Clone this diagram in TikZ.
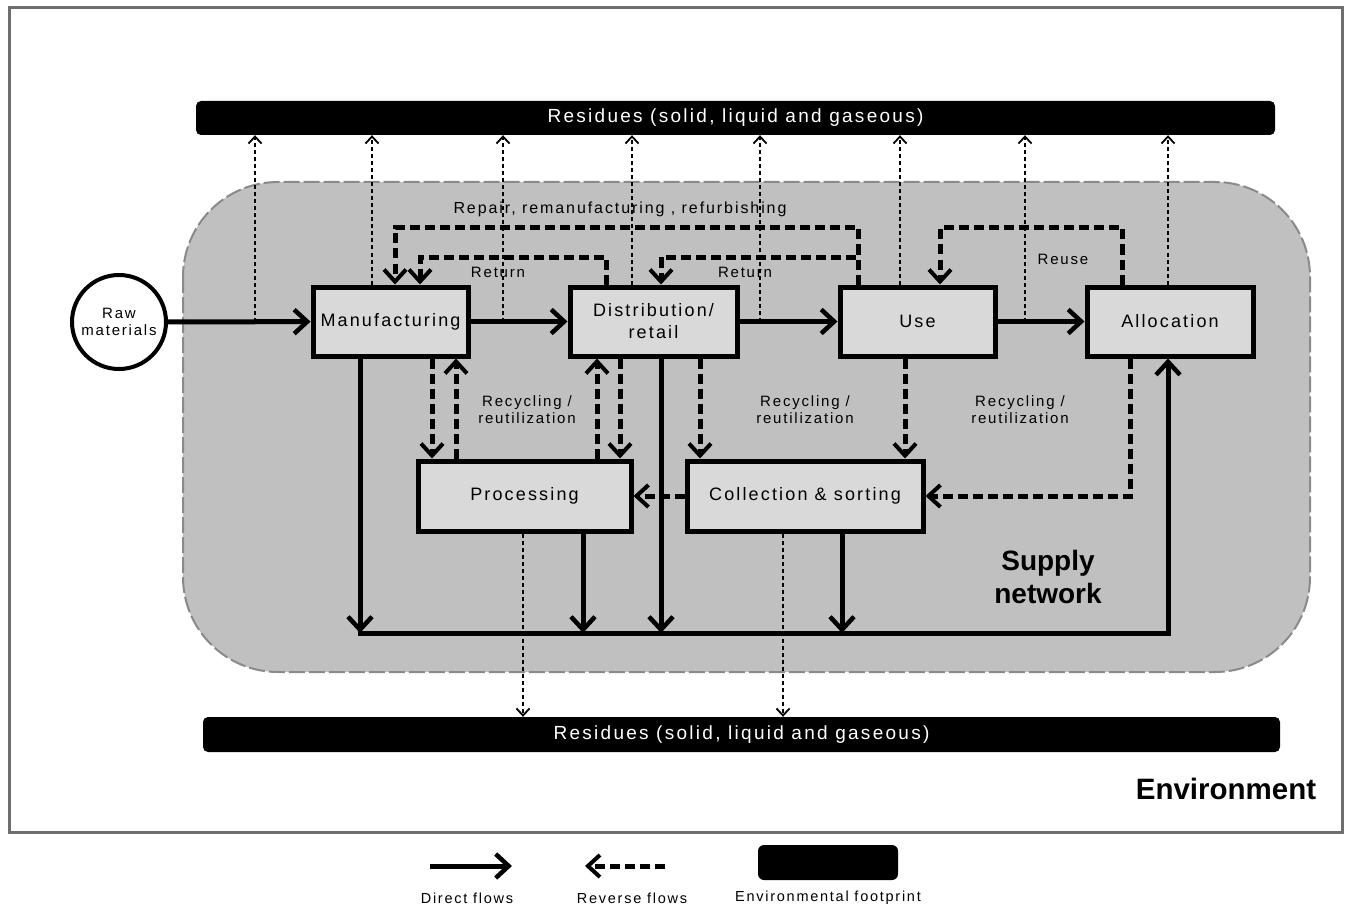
\documentclass[tikz,border=0pt]{standalone}
\usepackage{fontspec}
\setmainfont{Liberation Sans}[LetterSpace=12]
\newfontfamily\plainfont{Liberation Sans}
\usetikzlibrary{arrows.meta,calc}
\definecolor{netgray}{HTML}{C0C0C0}
\definecolor{boxgray}{HTML}{D9D9D9}
\definecolor{framegray}{HTML}{6E6E6E}
\definecolor{edgegray}{HTML}{8A8A8A}
\begin{document}
\begin{tikzpicture}[x=1pt,y=-1pt,
  stage/.style={draw=black, line width=5pt, fill=boxgray, minimum height=69pt,
    font=\fontsize{18}{22}\selectfont, align=center, inner sep=0pt},
  resbar/.style={fill=black, rounded corners=5pt, text=white, inner sep=0pt,
    font=\fontsize{19}{22}\selectfont},
  lbl/.style={font=\fontsize{15}{17}\selectfont, align=center, inner sep=0pt},
  flow/.style={line width=5pt, line join=miter, -{Straight Barb[length=13pt,width=24pt,line width=4.5pt]}},
  rev/.style={line width=5pt, dash pattern=on 10pt off 5pt, line join=miter,
    -{Straight Barb[length=12pt,width=22pt,line width=4pt]}},
  res/.style={line width=1.8pt, dash pattern=on 4pt off 3pt,
    -{Straight Barb[length=7pt,width=13pt,line width=1.8pt]}}
]
\useasboundingbox (0,0) rectangle (1348,909);
% outer environment frame
\draw[framegray, line width=3pt] (9,8) rectangle (1342,832);
% supply network region
\path[draw=edgegray, line width=2pt, dash pattern=on 16pt off 4pt, fill=netgray, rounded corners=95pt]
  (183,182) rectangle (1310,672);
% residue bars
\node[resbar, minimum width=1079pt, minimum height=34pt] (rtop) at (735.5,118) {Residues (solid, liquid and gaseous)};
\node[resbar, minimum width=1077pt, minimum height=35pt] (rbot) at (741.5,734.5) {Residues (solid, liquid and gaseous)};

% stages
\node[stage, minimum width=155pt] (man) at (390.5,321.5) {Manufacturing};
\node[stage, minimum width=167pt] (dist) at (653.5,321.5) {Distribution/\\retail};
\node[stage, minimum width=155pt] (use) at (917.5,321.5) {Use};
\node[stage, minimum width=166pt] (alloc) at (1170,321.5) {Allocation};
\node[stage, minimum width=213pt, minimum height=70pt] (proc) at (524.5,496) {Processing};
\node[stage, minimum width=236pt, minimum height=70pt] (coll) at (805,496) {Collection \& sorting};
\node[draw=black, line width=4pt, fill=white, circle, minimum size=94pt, inner sep=0pt,
  font=\fontsize{15}{17}\selectfont, align=center] (raw) at (119,322) {Raw\\materials};

% direct flows
\draw[flow] (raw) -- (man);
\draw[flow] (man) -- (dist);
\draw[flow] (dist) -- (use);
\draw[flow] (use) -- (alloc);

\coordinate (bl) at (357.5,633);
\coordinate (br) at (1168,633);
\draw[flow] (man.south -| 360,0) -- (360,633);
\draw[flow] (proc.south -| 583,0) -- (583,633);
\draw[flow] (dist.south -| 661,0) -- (661,633);
\draw[flow] (coll.south -| 842,0) -- (842,633);
\draw[flow] (bl) -- (br) -- (alloc.south -| br);

% residues to top bar
\coordinate (e1) at (255,322);
\coordinate (e2) at (503,322);
\coordinate (e3) at (760,322);
\coordinate (e4) at (1025,322);
\draw[res] (e1) -- (e1 |- rtop.south);
\draw[res] (man.north -| 372,0) -- (372,0 |- rtop.south);
\draw[res] (e2) -- (e2 |- rtop.south);
\draw[res] (dist.north -| 632,0) -- (632,0 |- rtop.south);
\draw[res] (e3) -- (e3 |- rtop.south);
\draw[res] (use.north -| 900,0) -- (900,0 |- rtop.south);
\draw[res] (e4) -- (e4 |- rtop.south);
\draw[res] (alloc.north -| 1168,0) -- (1168,0 |- rtop.south);
% residues to bottom bar
\draw[res] (proc.south -| 523,0) -- (523,0 |- rbot.north);
\draw[res] (coll.south -| 783,0) -- (783,0 |- rbot.north);

% reverse flows (top loops)
\draw[rev] (use.north -| 858,0) -- (858,228) -- (395,228) -- (man.north -| 395,0);
\draw[rev] (dist.north -| 606,0) -- (606,257) -- (420,257) -- (man.north -| 420,0);
\draw[rev] (use.north -| 858,0) -- (858,257) -- (661,257) -- (dist.north -| 661,0);
\draw[rev] (alloc.north -| 1122,0) -- (1122,228) -- (940,228) -- (use.north -| 940,0);

% reverse flows (recycling)
\draw[rev] (man.south -| 432,0) -- (proc.north -| 432,0);
\draw[rev] (proc.north -| 456,0) -- (man.south -| 456,0);
\draw[rev] (proc.north -| 597,0) -- (dist.south -| 597,0);
\draw[rev] (dist.south -| 620,0) -- (proc.north -| 620,0);
\draw[rev] (dist.south -| 700,0) -- (coll.north -| 700,0);
\draw[rev] (use.south -| 905,0) -- (coll.north -| 905,0);
\draw[rev] (alloc.south -| 1130,0) |- (coll.east);
\draw[rev] (coll.west) -- (proc.east);

% labels
\node[lbl, font=\fontsize{16}{18}\selectfont] (lrep) at (620,209) {Repair, remanufacturing , refurbishing};
\node[lbl] (lret1) at (498,272) {Return};
\node[lbl] (lret2) at (745,272) {Return};
\node[lbl] (lreu) at (1063,259) {Reuse};
\node[lbl] (lrec1) at (527,410) {Recycling /\\reutilization};
\node[lbl] (lrec2) at (805,410) {Recycling /\\reutilization};
\node[lbl] (lrec3) at (1020,410) {Recycling /\\reutilization};
\node[font=\plainfont\bfseries\fontsize{28}{33}\selectfont, align=center, inner sep=0pt] (sn) at (1048,577) {Supply\\network};
\node[font=\plainfont\bfseries\fontsize{29.5}{33}\selectfont, inner sep=0pt] (env) at (1226,789) {Environment};

% legend
\coordinate (d1) at (430,866);
\coordinate (d2) at (512,866);
\coordinate (r1) at (665,866);
\coordinate (r2) at (585,866);
\draw[flow] (d1) -- (d2);
\draw[rev] (r1) -- (r2);
\node[fill=black, rounded corners=6pt, minimum width=140pt, minimum height=35pt, inner sep=0pt] (foot) at (828,862.5) {};
\node[lbl, font=\fontsize{14.5}{16}\selectfont] (ld) at (467,898) {Direct flows};
\node[lbl, font=\fontsize{14.5}{16}\selectfont] (lr) at (632,898) {Reverse flows};
\node[lbl, font=\fontsize{14.5}{16}\selectfont] (lf) at (828,898) {Environmental footprint};
\end{tikzpicture}
\end{document}
